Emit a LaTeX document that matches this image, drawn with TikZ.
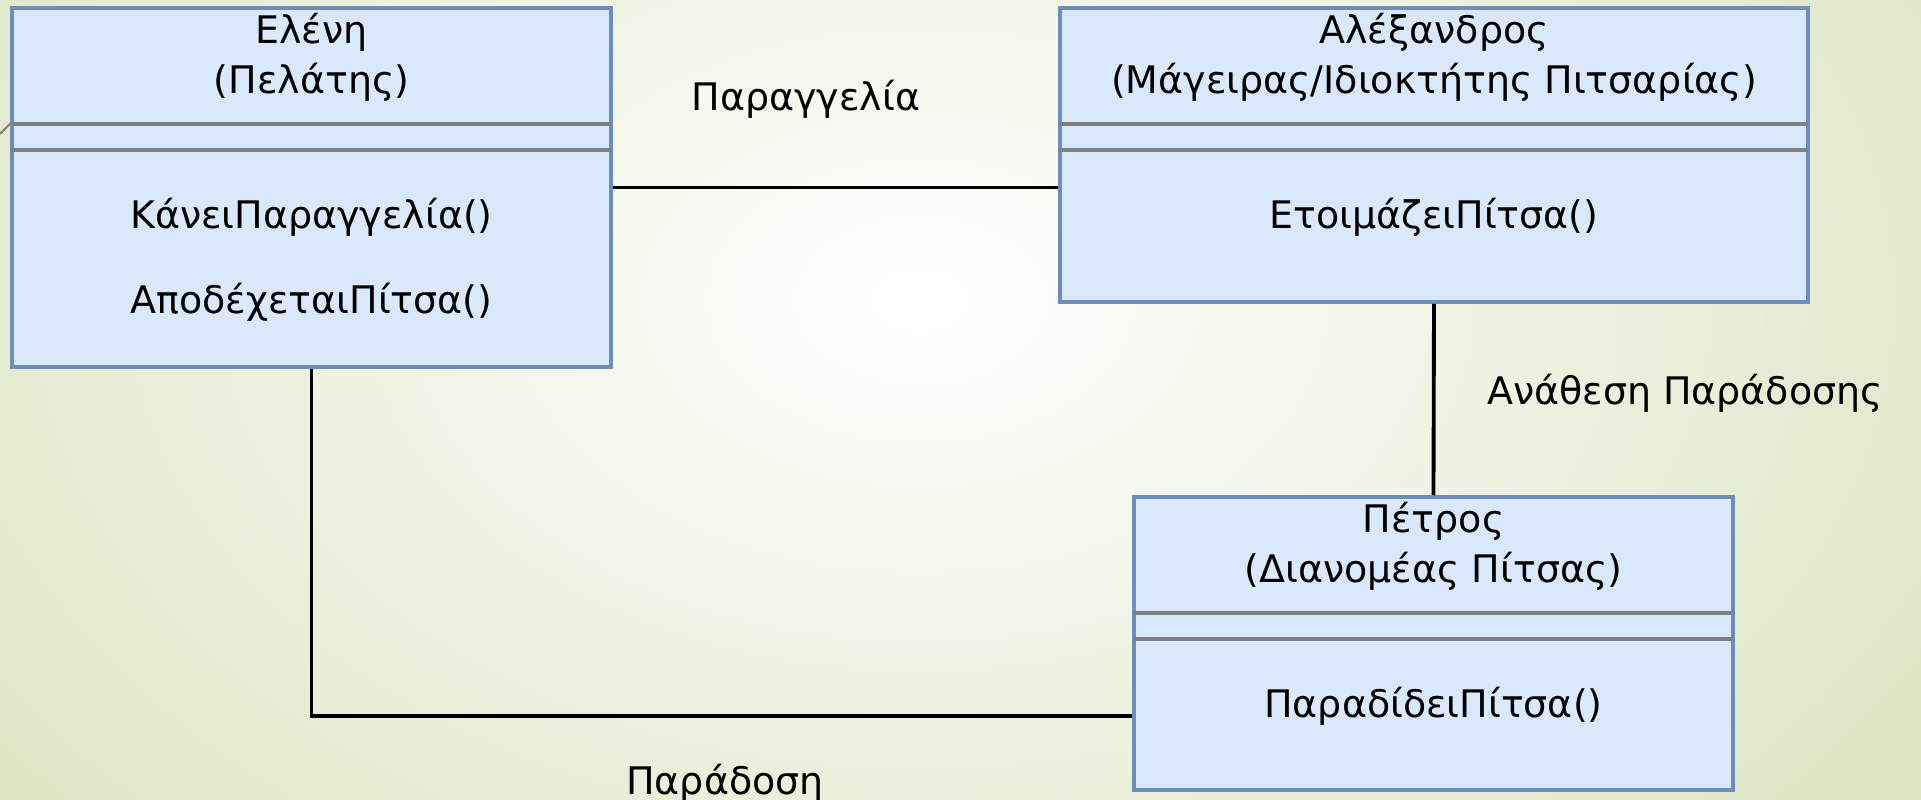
\documentclass[tikz,border=0pt]{standalone}
\usepackage{fontspec}
\setmainfont{DejaVu Sans}
\usetikzlibrary{positioning, calc}
\definecolor{umlfill}{HTML}{DAE8FC}
\definecolor{umlline}{HTML}{6C8EBF}
\definecolor{divgray}{HTML}{808080}
\definecolor{bgin}{HTML}{FFFFFF}
\definecolor{bgout}{HTML}{DDE6C4}
\definecolor{tickline}{HTML}{8A8468}

\begin{document}
\begin{tikzpicture}[
  font=\fontsize{10.8}{13}\selectfont,
  umlclass/.style={draw=umlline, fill=umlfill, line width=1.1pt, inner sep=0pt},
  divider/.style={draw=divgray, line width=1pt},
  link/.style={draw=black, line width=1.1pt},
  txt/.style={inner sep=0pt, anchor=base, text=black},
]
  % slide background
  \useasboundingbox (0,0) rectangle (19.21,8);
  \begin{scope}
    \clip (0,0) rectangle (19.21,8);
    \fill[bgout] (0,0) rectangle (19.21,8);
    \shade[inner color=bgin, outer color=bgout] (9.2,5.0) ellipse (12cm and 8cm);
  \end{scope}
  \draw[tickline, line width=0.6pt] (0,6.66) -- (0.14,6.80);

  % class boxes
  \node[umlclass, minimum width=5.99cm, minimum height=3.59cm] (eleni) at (3.115,6.125) {};
  \node[umlclass, minimum width=7.48cm, minimum height=2.94cm] (alex) at (14.34,6.45) {};
  \node[umlclass, minimum width=5.99cm, minimum height=2.93cm] (petros) at (14.335,1.565) {};

  % empty attribute compartments
  \foreach \cls in {eleni, alex, petros} {
    \draw[divider] ([xshift=0.55pt, yshift=-1.18cm]\cls.north west) -- ([xshift=-0.55pt, yshift=-1.18cm]\cls.north east);
    \draw[divider] ([xshift=0.55pt, yshift=-1.44cm]\cls.north west) -- ([xshift=-0.55pt, yshift=-1.44cm]\cls.north east);
  }

  % names and operations
  \node[txt] (eleniname) at ([yshift=-0.37cm]eleni.north) {Ελένη};
  \node[txt] (elenirole) at ([yshift=-0.87cm]eleni.north) {(Πελάτης)};
  \node[txt] (eleniorder) at ([yshift=-2.22cm]eleni.north) {ΚάνειΠαραγγελία()};
  \node[txt] (eleniaccept) at ([yshift=-3.07cm]eleni.north) {ΑποδέχεταιΠίτσα()};

  \node[txt] (alexname) at ([yshift=-0.37cm]alex.north) {Αλέξανδρος};
  \node[txt] (alexrole) at ([yshift=-0.87cm]alex.north) {(Μάγειρας/Ιδιοκτήτης Πιτσαρίας)};
  \node[txt] (alexbake) at ([yshift=-2.22cm]alex.north) {ΕτοιμάζειΠίτσα()};

  \node[txt] (petrosname) at ([yshift=-0.37cm]petros.north) {Πέτρος};
  \node[txt] (petrosrole) at ([yshift=-0.87cm]petros.north) {(Διανομέας Πίτσας)};
  \node[txt] (petrosdeliver) at ([yshift=-2.22cm]petros.north) {ΠαραδίδειΠίτσα()};

  % associations
  \coordinate (dropin) at ([yshift=-2.21cm]petros.north west);
  \draw[link] (eleni.east) -- (eleni.east -| alex.west);
  \draw[link] (alex.south) -- (petros.north);
  \draw[link] (eleni.south) |- (dropin);

  \node[txt] (order) at (8.06,6.89) {Παραγγελία};
  \node[txt] (assign) at (16.85,3.95) {Ανάθεση Παράδοσης};
  \node[txt] (delivery) at (7.25,0.05) {Παράδοση};
\end{tikzpicture}
\end{document}
